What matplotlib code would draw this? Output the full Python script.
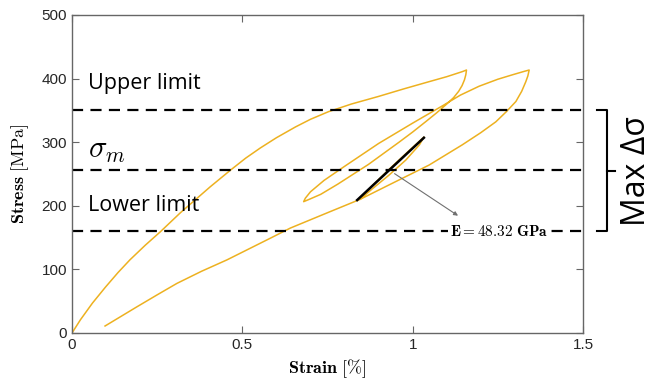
import numpy as np
import matplotlib
matplotlib.use("Agg")
import matplotlib.pyplot as plt
import matplotlib.transforms as mtransforms

plt.rcParams['mathtext.fontset'] = 'cm'
plt.rcParams['font.family'] = ['Liberation Sans', 'DejaVu Sans']

# Datos (strain en %, stress en MPa)
carga1_strain = [0, 0.025, 0.06, 0.098, 0.135, 0.17, 0.215, 0.259, 0.318, 0.406,
                 0.465, 0.51, 0.553, 0.60, 0.656, 0.70, 0.753, 0.82, 0.90, 0.975,
                 1.047, 1.10, 1.146, 1.158]
carga1_stress = [0, 21, 47, 72, 95, 115, 138, 159, 189, 230,
                 256, 275, 291, 307, 324, 336, 348, 360, 372, 384,
                 395, 403, 411, 413.5]

descarga1_strain = [1.156, 1.152, 1.145, 1.135, 1.12, 1.10, 1.07, 1.04, 1.0, 0.96,
                    0.87, 0.78, 0.73, 0.70, 0.68]
descarga1_stress = [406, 398, 389, 380, 370, 360, 346, 333, 316, 300,
                    265, 234, 218, 211, 206.5]

recarga_strain = [0.685, 0.70, 0.74, 0.80, 0.90, 1.00, 1.09, 1.14, 1.195, 1.25,
                  1.293, 1.325, 1.342]
recarga_stress = [212, 222, 240, 262, 298, 330, 358, 374, 388, 399,
                  406, 411, 413.5]

descarga2_strain = [1.338, 1.332, 1.32, 1.303, 1.275, 1.244, 1.20, 1.146, 1.048,
                    0.95, 0.845]
descarga2_stress = [404, 395, 380, 364, 348, 332, 315, 296, 264,
                    238, 210]

ciclo_strain = [0.88, 0.94, 0.99, 1.033, 1.02, 0.98, 0.93, 0.88, 0.845]
ciclo_stress = [231, 262, 287, 308, 296, 272, 248, 226, 210]

final_strain = [0.754, 0.641, 0.582, 0.455, 0.38, 0.308, 0.25, 0.19, 0.097]
final_stress = [190, 165, 149, 115, 97, 78, 60, 41, 11]

# Recta del modulo
modulo_strain = [0.837, 1.033]
modulo_stress = [209, 307]

# Limites
upper_limit = 350
sigma_m = 256
lower_limit = 160

strain = np.concatenate([carga1_strain, descarga1_strain, recarga_strain,
                         descarga2_strain, ciclo_strain, final_strain])
stress = np.concatenate([carga1_stress, descarga1_stress, recarga_stress,
                         descarga2_stress, ciclo_stress, final_stress])

fig = plt.figure(figsize=(6.56, 3.91), dpi=100)
ax = fig.add_axes([72 / 656, 1 - 333 / 391, 511 / 656, 318 / 391])

ax.plot(strain, stress, color='#EDB120', linewidth=1.1, solid_joinstyle='round')
ax.plot(modulo_strain, modulo_stress, color='black', linewidth=1.8)

for nivel in [upper_limit, sigma_m, lower_limit]:
    ax.axhline(nivel, color='black', linewidth=1.6, dashes=(5, 3.3))

texto_font = ['Open Sans', 'DejaVu Sans']
ax.text(0.047, 393, 'Upper limit', fontsize=15.5, family=texto_font, va='center', ha='left')
ax.text(0.047, 201, 'Lower limit', fontsize=15.5, family=texto_font, va='center', ha='left')
ax.text(0.047, 288, r'$\sigma_m$', fontsize=22, va='center', ha='left')

ax.annotate('', xy=(1.14, 182), xytext=(0.94, 253),
            arrowprops=dict(arrowstyle='-|>', color='#707070', lw=0.8,
                            mutation_scale=6))
ax.text(1.255, 159, r'$\mathbf{E} = \mathbf{48.32\ GPa}$', fontsize=11, ha='center',
        va='center', bbox=dict(facecolor='white', edgecolor='none', pad=1.5))

# Llave de Max delta sigma
trans = mtransforms.blended_transform_factory(ax.transAxes, ax.transData)
mid = (upper_limit + lower_limit) / 2
ax.plot([1.027, 1.047, 1.047, 1.027], [upper_limit, upper_limit, lower_limit, lower_limit],
        color='black', linewidth=1.5, transform=trans, clip_on=False)
ax.plot([1.047, 1.063], [mid, mid], color='black', linewidth=1.5,
        transform=trans, clip_on=False)
ax.text(1.104, mid, 'Max Δσ', fontsize=23, family=texto_font, rotation=90,
        va='center', ha='center', transform=trans)

ax.set_xlim(0, 1.5)
ax.set_ylim(0, 500)
ax.set_xticks([0, 0.5, 1, 1.5])
ax.set_xticklabels(['0', '0.5', '1', '1.5'])
ax.set_yticks([0, 100, 200, 300, 400, 500])
ax.tick_params(direction='in', length=5, width=0.8, color='#666666',
               labelsize=11, labelcolor='#262626', top=True, right=True)
for s in ax.spines.values():
    s.set_color('#666666')
    s.set_linewidth(1.0)

ax.set_xlabel(r'$\mathbf{Strain}\ [\%]$', fontsize=13, labelpad=4)
ax.set_ylabel(r'$\mathbf{Stress}\ [\mathrm{MPa}]$', fontsize=13, labelpad=8)

fig.savefig('out.png', dpi=100)
